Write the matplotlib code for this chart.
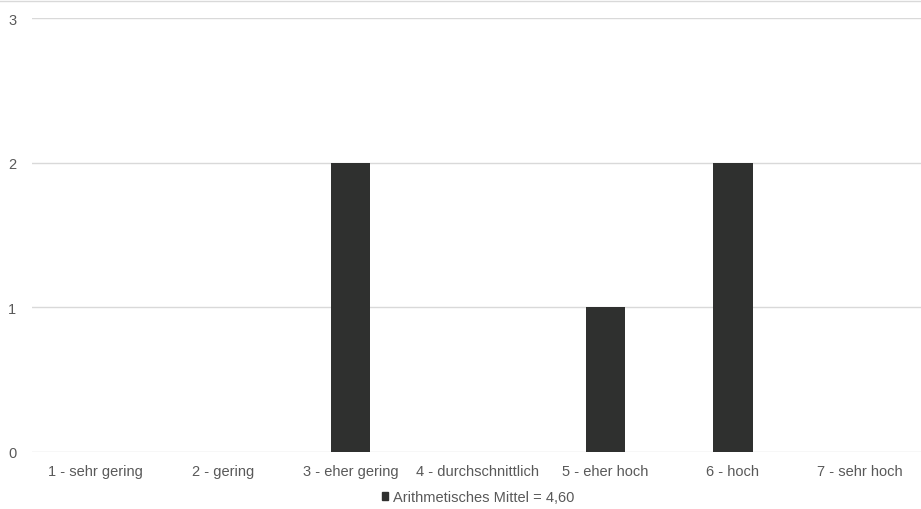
import matplotlib
matplotlib.use("Agg")
import matplotlib.pyplot as plt
from matplotlib.patches import Patch
from matplotlib.lines import Line2D

categories = ["1 - sehr gering", "2 - gering", "3 - eher gering", "4 - durchschnittlich",
              "5 - eher hoch", "6 - hoch", "7 - sehr hoch"]
values = [0, 0, 2, 0, 1, 2, 0]
series_label = "Arithmetisches Mittel = 4,60"
yticks = [0, 1, 2, 3]

bar_color = "#2f302f"
text_color = "#595959"
grid_color = "#d9d9d9"

plt.rcParams['font.family'] = ['Liberation Sans', 'DejaVu Sans']

fig = plt.figure(figsize=(9.21, 5.10), dpi=100)
ax = fig.add_axes([31.75/921, 57/510, (924-31.75)/921, (453-19)/510])

x = list(range(1, len(categories) + 1))
ax.bar(x, values, width=0.31, color=bar_color, zorder=3)

ax.set_xlim(0.5, 7.5)
ax.set_ylim(0, 3)
ax.set_yticks(yticks)
ax.set_xticks(x)
ax.set_xticklabels(categories)
ax.yaxis.grid(True, color=grid_color, linewidth=1, zorder=0)
ax.tick_params(axis='both', length=0, colors=text_color, labelsize=10.5)
ax.tick_params(axis='y', pad=11)
ax.tick_params(axis='x', pad=9)
for s in ax.spines.values():
    s.set_visible(False)

# top border line
fig.add_artist(Line2D([0, 1], [1 - 1.5/510, 1 - 1.5/510], color=grid_color, linewidth=1,
                      transform=fig.transFigure))

handle = Patch(facecolor=bar_color, edgecolor=bar_color)
leg = fig.legend([handle], [series_label], loc='center', bbox_to_anchor=(478/921, 1 - 498/510),
                 frameon=False, handlelength=0.45, handleheight=0.45, handletextpad=0.3,
                 fontsize=10.5, labelcolor=text_color)

fig.savefig("out.png", dpi=100)
